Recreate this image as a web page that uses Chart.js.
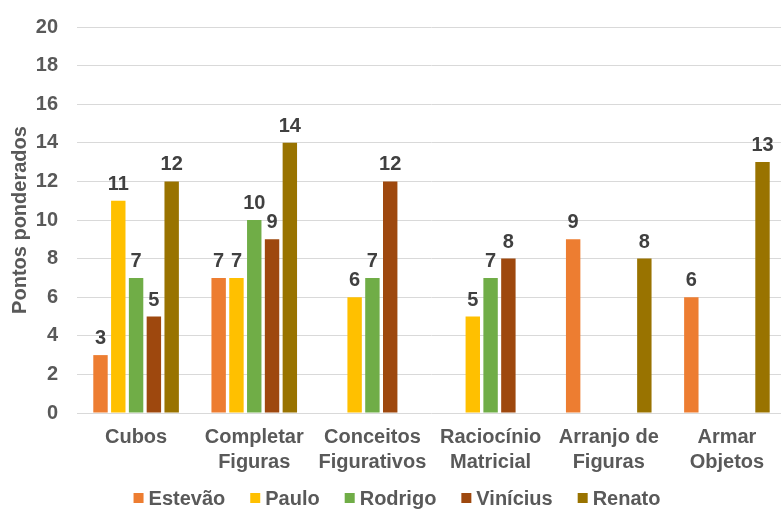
<!DOCTYPE html>
<html lang="pt">
<head>
<meta charset="utf-8">
<title>Pontos ponderados por subteste</title>
<script src="https://cdn.jsdelivr.net/npm/chart.js@4"></script>
<style>
  html, body { margin: 0; padding: 0; background: #fff; overflow: hidden; }
  #wrap { position: relative; width: 786px; height: 511px; }
</style>
</head>
<body>
<div id="wrap"><canvas id="grafico"></canvas></div>
<script>
// subtestes e pontos de cada participante (null = sem barra)
const subtestes = [
  'Cubos',
  ['Completar', 'Figuras'],
  ['Conceitos', 'Figurativos'],
  ['Raciocínio', 'Matricial'],
  ['Arranjo de', 'Figuras'],
  ['Armar', 'Objetos']
];
const estevao  = [3, 7, null, null, 9, 6];
const paulo    = [11, 7, 6, 5, null, null];
const rodrigo  = [7, 10, 7, 7, null, null];
const vinicius = [5, 9, 12, 8, null, null];
const renato   = [12, 14, null, null, 8, 13];

const eixoY = { min: 0, max: 20, passo: 2 };

const fonte = '"Liberation Sans", Arial, sans-serif';
const cinza = '#595959';

// escreve o valor em cima de cada barra
const rotulosValor = {
  id: 'rotulosValor',
  afterDatasetsDraw(chart) {
    const ctx = chart.ctx;
    ctx.save();
    ctx.font = 'bold 20px ' + fonte;
    ctx.fillStyle = '#404040';
    ctx.textAlign = 'center';
    ctx.textBaseline = 'alphabetic';
    chart.data.datasets.forEach((ds, i) => {
      const meta = chart.getDatasetMeta(i);
      meta.data.forEach((bar, j) => {
        const v = ds.data[j];
        if (v == null) return;
        ctx.fillText(String(v), bar.x, bar.y - 11);
      });
    });
    ctx.restore();
  }
};

// legenda desenhada à mão: quadradinho colado ao nome, itens bem espaçados
const legendaBaixo = {
  id: 'legendaBaixo',
  afterDraw(chart) {
    const ctx = chart.ctx;
    const caixa = 10, folga = 5, entre = 25;
    ctx.save();
    ctx.font = 'bold 20px ' + fonte;
    ctx.textBaseline = 'middle';
    ctx.textAlign = 'left';
    const itens = chart.data.datasets.map(ds => ({
      nome: ds.label, cor: ds.backgroundColor, w: ctx.measureText(ds.label).width
    }));
    const total = itens.reduce((s, it) => s + caixa + folga + it.w, 0) + entre * (itens.length - 1);
    let x = chart.width / 2 + 4 - total / 2;
    const y = chart.height - 13;
    itens.forEach(it => {
      ctx.fillStyle = it.cor;
      ctx.fillRect(x, y - caixa / 2, caixa, caixa);
      ctx.fillStyle = cinza;
      ctx.fillText(it.nome, x + caixa + folga, y + 1);
      x += caixa + folga + it.w + entre;
    });
    ctx.restore();
  }
};

const serie = (label, data, cor) => ({
  label, data, backgroundColor: cor,
  categoryPercentage: 0.753, barPercentage: 0.81
});

new Chart(document.getElementById('grafico'), {
  type: 'bar',
  data: {
    labels: subtestes,
    datasets: [
      serie('Estevão', estevao, '#ED7D31'),
      serie('Paulo', paulo, '#FFC000'),
      serie('Rodrigo', rodrigo, '#70AD47'),
      serie('Vinícius', vinicius, '#9E480E'),
      serie('Renato', renato, '#997300')
    ]
  },
  options: {
    responsive: true,
    maintainAspectRatio: false,
    animation: false,
    layout: { padding: { top: 27, left: 0, right: 0, bottom: 36 } },
    plugins: {
      tooltip: { enabled: false },
      legend: { display: false }
    },
    scales: {
      x: {
        afterFit(scale) { scale.height = 62; },
        grid: { display: false, drawTicks: false },
        border: { display: false },
        ticks: {
          color: cinza,
          font: { family: fonte, size: 20, weight: 'bold', lineHeight: 1.25 },
          padding: 12,
          maxRotation: 0,
          autoSkip: false
        }
      },
      y: {
        min: eixoY.min,
        max: eixoY.max,
        afterFit(scale) {
          scale.width = 77;
          scale.paddingTop = 0;
          scale.paddingBottom = 0;
        },
        border: { display: false },
        grid: { color: '#d9d9d9', lineWidth: 1, drawTicks: false },
        ticks: {
          stepSize: eixoY.passo,
          color: cinza,
          padding: 19,
          font: { family: fonte, size: 20, weight: 'bold' }
        },
        title: {
          display: true,
          text: 'Pontos ponderados',
          color: cinza,
          font: { family: fonte, size: 20, weight: 'bold' },
          padding: { top: 8, bottom: 0 }
        }
      }
    }
  },
  plugins: [rotulosValor, legendaBaixo]
});
</script>
</body>
</html>
